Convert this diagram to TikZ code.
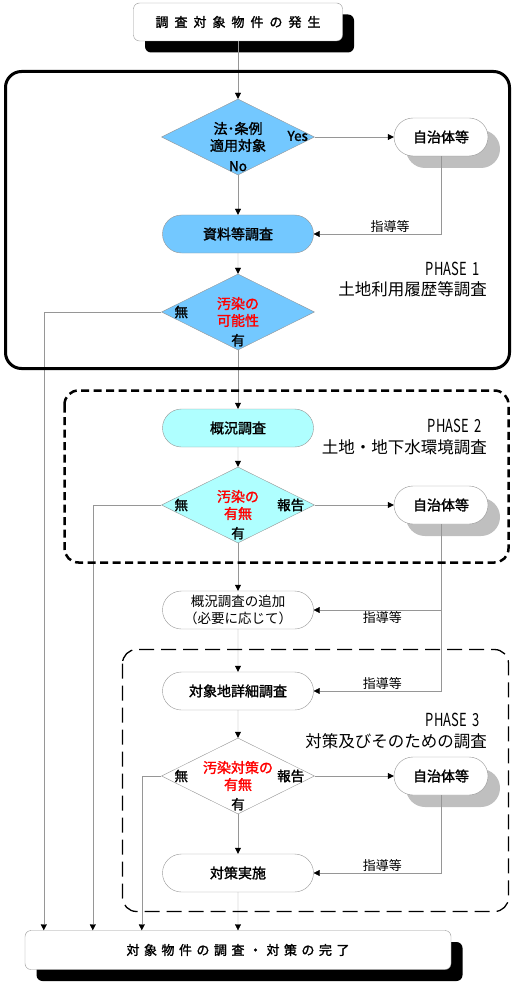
\documentclass[tikz,border=0pt]{standalone}
\usepackage{fontspec}
\setmainfont{Noto Sans CJK JP}[BoldFont={Noto Sans CJK JP}, BoldFeatures={FakeBold=1.6}]
\usepackage{tikz}
\usetikzlibrary{shapes, shapes.misc, shapes.geometric, positioning, arrows.meta, shadows}

\definecolor{skyblue}{RGB}{115,200,255}
\definecolor{paleblue}{RGB}{175,255,255}
\definecolor{lineg}{RGB}{150,150,150}
\newcommand{\gapA}{\hspace{6pt}}
\newcommand{\gapB}{\hspace{4.5pt}}

\begin{document}
\begin{tikzpicture}[x=1pt, y=-1pt,
>={Triangle[length=6pt,width=6pt,color=black]},
conn/.style={->, draw=lineg, thin},
block/.style={draw=lineg, thin, rounded rectangle, minimum width=153pt, minimum height=38pt, inner sep=1pt, font=\fontsize{14}{17}\selectfont\bfseries, align=center},
cond/.style={draw=lineg, thin, diamond, aspect=2, minimum width=153pt, minimum height=76pt, inner sep=0pt, font=\fontsize{14}{17}\selectfont\bfseries, text=red, align=center},
office/.style={block, minimum width=96pt, fill=white, drop shadow={shadow xshift=12pt, shadow yshift=-12pt, fill=gray!50, opacity=1}},
term/.style={draw=lineg, thin, rectangle, rounded corners=6pt, fill=white, font=\fontsize{13}{15}\selectfont\bfseries, drop shadow={shadow xshift=11.5pt, shadow yshift=-11.5pt, fill=black, opacity=1}},
tag/.style={font=\fontsize{13.5}{15}\selectfont\bfseries, inner sep=0pt},
note/.style={font=\fontsize{13}{15}\selectfont, inner sep=1pt},
phase/.style={anchor=east, inner sep=0pt, font=\fontsize{16.5}{18}\selectfont}]

\useasboundingbox (0,0) rectangle (515,984);

\node[term, minimum width=209pt, minimum height=38pt]	(T) at (238,22)	{調\gapA 査\gapA 対\gapA 象\gapA 物\gapA 件\gapA の\gapA 発\gapA 生};

% phase 1
\node[cond, fill=skyblue, text=black]	(Q1) at (238,137)	{法･条例\\適用対象};
\node[office]							(A1) at (441,137)	{自治体等};
\node[block, fill=skyblue]				(R1) at (238,234)	{資料等調査};
\node[cond, fill=skyblue]				(Q2) at (238,312)	{汚染の\\可能性};

% phase 2
\node[block, fill=paleblue]				(S1) at (238,428)	{概況調査};
\node[cond, fill=paleblue]				(Q3) at (238,505)	{汚染の\\有無};
\node[office]							(A2) at (441,505)	{自治体等};
\node[block, font=\fontsize{13.5}{16.5}\selectfont]	(S2) at (238,610)	{概況調査の追加\\（必要に応じて）};

% phase 3
\node[block]							(S3) at (238,691)	{対象地詳細調査};
\node[cond, fill=white]					(Q4) at (238,776)	{汚染対策の\\有無};
\node[office]							(A3) at (441,776)	{自治体等};
\node[block]							(S4) at (238,873)	{対策実施};

\node[term, minimum width=426pt, minimum height=39pt]	(E) at (238,950)	{対\gapB 象\gapB 物\gapB 件\gapB の\gapB 調\gapB 査\gapB ・\gapB 対\gapB 策\gapB の\gapB 完\gapB 了};

% branch labels
\node[tag] (y1) at ([xshift=-17pt, yshift=1pt]Q1.east)	{Yes};
\node[tag] (n1) at ([yshift=9pt]Q1.south)				{No};
\node[tag] (n2) at ([xshift=20pt]Q2.west)				{無};
\node[tag] (h2) at ([yshift=10pt]Q2.south)				{有};
\node[tag] (n3) at ([xshift=20pt]Q3.west)				{無};
\node[tag] (r3) at ([xshift=-24pt]Q3.east)				{報告};
\node[tag] (h3) at ([yshift=10pt]Q3.south)				{有};
\node[tag] (n4) at ([xshift=20pt]Q4.west)				{無};
\node[tag] (r4) at ([xshift=-24pt]Q4.east)				{報告};
\node[tag] (h4) at ([yshift=10pt]Q4.south)				{有};

% phase titles
\node[phase] (P1) at (480,269)	{\scalebox{0.72}[1]{\fontsize{18}{20}\selectfont PHASE\ \ 1}};
\node[phase] (L1) at (487,289)	{土地利用履歴等調査};
\node[phase] (P2) at (482,426)	{\scalebox{0.72}[1]{\fontsize{18}{20}\selectfont PHASE\ \ 2}};
\node[phase] (L2) at (487,447)	{土地・地下水環境調査};
\node[phase] (P3) at (480,720)	{\scalebox{0.72}[1]{\fontsize{18}{20}\selectfont PHASE\ \ 3}};
\node[phase] (L3) at (487,741)	{対策及びそのための調査};

\path[conn]
 (T)	edge	(Q1)
 (Q1)	edge	(A1)
 (Q1)	edge	(R1)
 (R1)	edge	(Q2)
 (Q2)	edge	(S1)
 (S1)	edge	(Q3)
 (Q3)	edge	(A2)
 (Q3)	edge	(S2)
 (S2)	edge	(S3)
 (S3)	edge	(Q4)
 (Q4)	edge	(A3)
 (Q4)	edge	(S4)
 (S4)	edge	(E);

\draw[conn] (A1.south) |- node[note, pos=0.70, above] (g1) {指導等} (R1.east);
\draw[conn] (A2.south) |- node[note, pos=0.73, below] (g2) {指導等} (S2.east);
\draw[conn] (A2.south) |- node[note, pos=0.73, above] (g3) {指導等} (S3.east);
\draw[conn] (A3.south) |- node[note, pos=0.73, above] (g4) {指導等} (S4.east);

\draw[conn] (Q2.west) -| ([xshift=19pt]E.north west);
\draw[conn] (Q3.west) -| ([xshift=68pt]E.north west);
\draw[conn] (Q4.west) -| ([xshift=117pt]E.north west);

% phase frames
\draw[line width=3pt, rounded corners=16pt] (5.5,71.5) rectangle (509.5,368.5);
\draw[line width=2.5pt, dash pattern=on 8pt off 4.5pt, rounded corners=14pt] (64.5,390.5) rectangle (508.5,562.5);
\draw[line width=1.3pt, dash pattern=on 15pt off 7pt, rounded corners=14pt] (122.5,649.5) rectangle (508.5,911.5);

\end{tikzpicture}
\end{document}
